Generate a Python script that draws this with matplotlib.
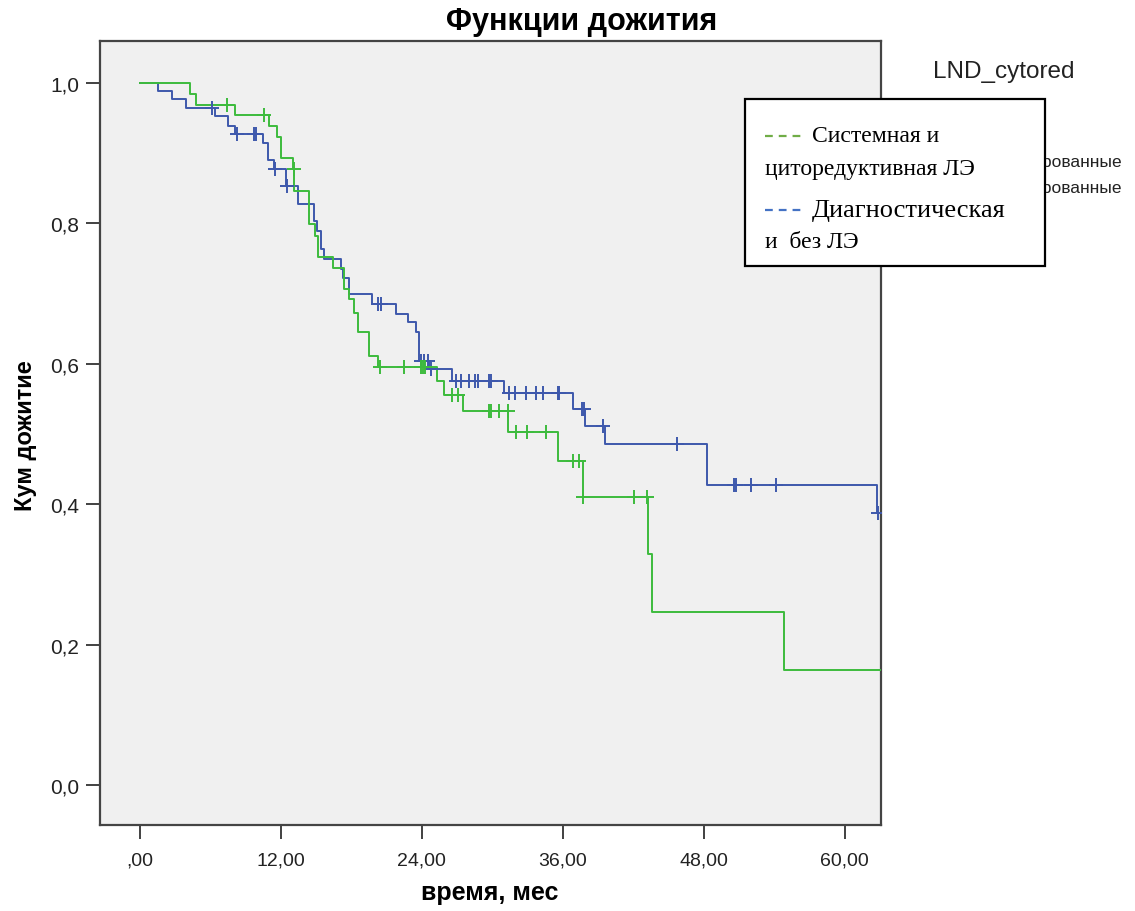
import numpy as np
import matplotlib
matplotlib.use("Agg")
import matplotlib.pyplot as plt
from matplotlib.patches import Rectangle
from matplotlib.lines import Line2D

# ---------------- data ----------------
# Group 1: Системная и циторедуктивная ЛЭ (green)
g_times = [0.0, 4.3, 4.8, 8.1, 11.0, 11.7, 12.0, 13.0, 13.15, 14.4, 14.9, 15.2,
           16.4, 17.4, 17.8, 18.2, 18.6, 19.5, 20.3, 25.3, 25.9, 27.5, 31.35,
           35.6, 37.7, 43.3, 43.6, 54.8]
g_surv = [1.0, 0.985, 0.969, 0.955, 0.939, 0.923, 0.894, 0.877, 0.846, 0.799, 0.782, 0.752,
          0.737, 0.707, 0.692, 0.673, 0.645, 0.611, 0.595, 0.576, 0.555, 0.533, 0.503,
          0.462, 0.410, 0.329, 0.246, 0.164]
g_end = 63.5
g_cens = [7.4, 10.6, 13.1, 20.4, 22.5, 23.9, 24.1, 24.3, 26.6, 27.1, 29.7, 29.9,
          30.6, 31.3, 32.0, 33.0, 34.6, 36.9, 37.4, 37.75, 42.1, 43.2]

# Group 2: Диагностическая и без ЛЭ (blue)
b_times = [0.0, 1.5, 2.7, 3.9, 6.4, 7.5, 8.1, 10.5, 10.9, 11.4, 12.4, 13.5, 14.8,
           15.1, 15.4, 15.7, 17.1, 17.3, 17.8, 19.8, 21.8, 22.8, 23.5, 23.8, 24.6,
           26.6, 31.0, 36.9, 37.9, 39.6, 48.3, 62.8]
b_surv = [1.0, 0.989, 0.977, 0.964, 0.953, 0.939, 0.927, 0.915, 0.891, 0.877, 0.853, 0.828, 0.804,
          0.789, 0.763, 0.749, 0.735, 0.723, 0.699, 0.685, 0.671, 0.659, 0.645, 0.604, 0.593,
          0.576, 0.559, 0.536, 0.512, 0.486, 0.428, 0.388]
b_end = 62.85
b_cens = [6.1, 8.3, 9.7, 9.85, 11.5, 12.5, 20.3, 20.5, 23.9, 24.2, 24.5, 24.8,
          26.9, 27.3, 28.0, 28.5, 28.8, 29.7, 29.9, 31.4, 31.9, 32.9, 33.7, 34.3,
          35.6, 35.7, 37.6, 37.8, 39.4, 45.7, 50.6, 50.75, 52.0, 54.2, 62.85]

x_ticks = [0, 12, 24, 36, 48, 60]
x_ticklabels = [",00", "12,00", "24,00", "36,00", "48,00", "60,00"]
y_ticks = [0.0, 0.2, 0.4, 0.6, 0.8, 1.0]
y_ticklabels = ["0,0", "0,2", "0,4", "0,6", "0,8", "1,0"]

title = "Функции дожития"
xlabel = "время, мес"
ylabel = "Кум дожитие"
legend_title = "LND_cytored"
legend_labels = ["Системная и", "циторедуктивная ЛЭ", "Диагностическая", "и  без ЛЭ"]

GREEN = "#3dbb3d"
BLUE = "#3e58ac"
LEG_GREEN = "#70ad47"
LEG_BLUE = "#4472c4"

# ---------------- figure ----------------
W, H = 1135, 912
fig = plt.figure(figsize=(W / 100, H / 100), dpi=100)
fig.patch.set_facecolor("white")
L, R, T, B = 100, 881, 42, 826
ax = fig.add_axes([L / W, 1 - B / H, (R - L) / W, (B - T) / H])
ax.set_facecolor("#f0f0f0")
ax.set_xlim(-3.4, 63.1)
ax.set_ylim(-0.057, 1.06)

sans = ["Liberation Sans", "DejaVu Sans"]
serif = ["Liberation Serif", "DejaVu Serif"]


def draw_group(times, surv, end, cens, color):
    t = list(times) + [end]
    s = list(surv) + [surv[-1]]
    ax.step(t, s, where="post", color=color, lw=1.4, zorder=3)
    idx = np.searchsorted(np.array(times), np.array(cens), side="right") - 1
    cy = np.array(surv)[idx]
    ax.plot(cens, cy, linestyle="none", marker="+", markersize=10,
            markeredgewidth=1.4, color=color, zorder=4)


draw_group(b_times, b_surv, b_end, b_cens, BLUE)
draw_group(g_times, g_surv, g_end, g_cens, GREEN)

ax.set_xticks(x_ticks)
ax.set_xticklabels(x_ticklabels, fontsize=14, family=sans, color="#222222")
ax.set_yticks(y_ticks)
ax.set_yticklabels(y_ticklabels, fontsize=15, family=sans, color="#222222")
ax.tick_params(axis="both", direction="out", length=10, width=1.3, color="#333333", pad=5)
ax.tick_params(axis="x", pad=9)
for sp in ax.spines.values():
    sp.set_color("#444444")
    sp.set_linewidth(1.6)

fig.text(490 / W, 1 - 893 / H, xlabel, fontsize=18, fontweight="bold", family=sans,
         ha="center", va="center")
fig.text(26 / W, 1 - 436 / H, ylabel, fontsize=17, fontweight="bold", family=sans,
         ha="center", va="center", rotation=90)
fig.text(582 / W, 1 - 22 / H, title, fontsize=22, fontweight="bold", family=sans,
         ha="center", va="center")

# SPSS legend (mostly hidden)
fig.text(933 / W, 1 - 72 / H, legend_title, fontsize=17.5, family=sans, ha="left", va="center",
         color="#222222")
fig.text(1122 / W, 1 - 163 / H, "1-цензурированные", fontsize=12.5, family=sans,
         ha="right", va="center", color="#222222")
fig.text(1122 / W, 1 - 188 / H, "2-цензурированные", fontsize=12.5, family=sans,
         ha="right", va="center", color="#222222")

# overlaid legend box
box = Rectangle((745 / W, 1 - 267 / H), 300 / W, 167 / H, transform=fig.transFigure,
                facecolor="white", edgecolor="black", linewidth=1.6, zorder=10)
fig.patches.append(box)
for ypx, col in [(137, LEG_GREEN), (211, LEG_BLUE)]:
    ln = Line2D([765 / W, 801 / W], [1 - ypx / H, 1 - ypx / H], transform=fig.transFigure,
                color=col, linewidth=1.6, linestyle=(0, (3.5, 2.7)), zorder=11)
    fig.lines.append(ln)
fig.text(812 / W, 1 - 137 / H, legend_labels[0], fontsize=17, family=serif,
         ha="left", va="center", zorder=11)
fig.text(765 / W, 1 - 170 / H, legend_labels[1], fontsize=17, family=serif,
         ha="left", va="center", zorder=11)
fig.text(812 / W, 1 - 211 / H, legend_labels[2], fontsize=19, family=serif,
         ha="left", va="center", zorder=11)
fig.text(765 / W, 1 - 242 / H, legend_labels[3], fontsize=17, family=serif,
         ha="left", va="center", zorder=11)

fig.savefig("out.png", dpi=100, facecolor="white")
